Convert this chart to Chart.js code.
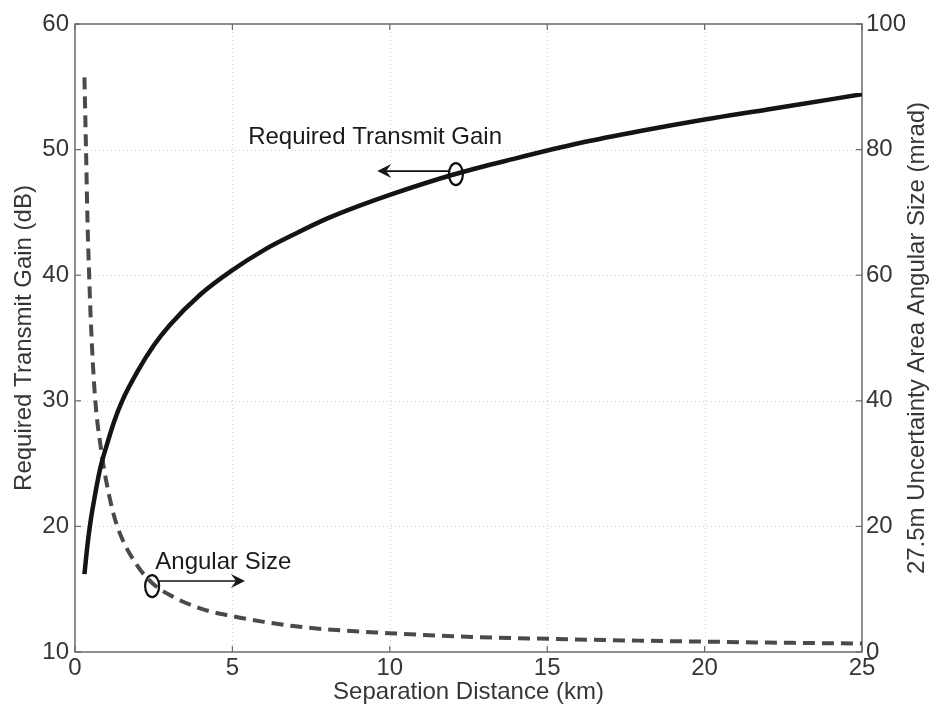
<!DOCTYPE html>
<html lang="en">
<head>
    <meta charset="UTF-8">
    <title>Required transmit gain vs separation distance</title>
    <script src="https://cdn.jsdelivr.net/npm/chart.js"></script>
    <style>
        body { margin: 0; background: #fff; }
        #gainChart { display: block; }
    </style>
</head>
<body>
    <canvas id="gainChart" width="935" height="707"></canvas>

    <script>
        // separation distance (km) and required transmit gain (dB)
        const gainDist = [0.3, 0.4, 0.5, 0.6, 0.8, 1.0, 1.25, 1.5, 2.0, 2.5, 3.0, 4.0, 5.0, 6.0, 7.0, 8.0, 9.0, 10, 12, 14, 16, 18, 20, 22, 24, 25];
        const gainDb = [16.2, 18.6, 20.5, 22.0, 24.6, 26.4, 28.4, 30.0, 32.4, 34.4, 36.0, 38.5, 40.4, 42.0, 43.3, 44.5, 45.5, 46.4, 48.0, 49.3, 50.5, 51.5, 52.4, 53.2, 54.0, 54.4];

        // separation distance (km) and angular size of the 27.5 m uncertainty area (mrad)
        const angleDist = [0.3, 0.35, 0.4, 0.45, 0.5, 0.63, 0.85, 1.0, 1.25, 1.5, 2.0, 2.45, 3.0, 4.0, 5.0, 6.0, 7.0, 8.0, 10, 12, 15, 18, 20, 22, 25];
        const angleMrad = [91.5, 80, 68, 60, 53, 41, 31.5, 27, 21.5, 18, 13.6, 11.0, 9.1, 6.9, 5.7, 4.8, 4.1, 3.6, 3.0, 2.5, 2.1, 1.8, 1.65, 1.5, 1.35];

        const xTicks = [0, 5, 10, 15, 20, 25];
        const gainTicks = [10, 20, 30, 40, 50, 60];
        const angleTicks = [0, 20, 40, 60, 80, 100];

        const FONT = 'Arial, "Liberation Sans", sans-serif';
        const TEXT = '#363636';
        const SIZE = 24;

        function toPoints(xs, ys) {
            return xs.map((x, i) => ({ x: x, y: ys[i] }));
        }

        // box, dotted grid and inward ticks like a MATLAB axes
        const axesFrame = {
            id: 'axesFrame',
            beforeDatasetsDraw(chart) {
                const ctx = chart.ctx;
                const a = chart.chartArea;
                const sx = chart.scales.x, sy = chart.scales.y, sy1 = chart.scales.y1;
                ctx.save();
                ctx.strokeStyle = '#cfcfcf';
                ctx.lineWidth = 1;
                ctx.setLineDash([1, 3]);
                xTicks.slice(1, -1).forEach(v => {
                    const px = Math.round(sx.getPixelForValue(v)) + 0.5;
                    ctx.beginPath(); ctx.moveTo(px, a.top); ctx.lineTo(px, a.bottom); ctx.stroke();
                });
                gainTicks.slice(1, -1).forEach(v => {
                    const py = Math.round(sy.getPixelForValue(v)) + 0.5;
                    ctx.beginPath(); ctx.moveTo(a.left, py); ctx.lineTo(a.right, py); ctx.stroke();
                });
                ctx.setLineDash([]);

                ctx.strokeStyle = '#6a6a6a';
                ctx.lineWidth = 1.5;
                ctx.strokeRect(a.left, a.top, a.right - a.left, a.bottom - a.top);

                const t = 6;
                ctx.lineWidth = 1.2;
                xTicks.forEach(v => {
                    const px = sx.getPixelForValue(v);
                    ctx.beginPath();
                    ctx.moveTo(px, a.bottom); ctx.lineTo(px, a.bottom - t);
                    ctx.moveTo(px, a.top); ctx.lineTo(px, a.top + t);
                    ctx.stroke();
                });
                gainTicks.forEach(v => {
                    const py = sy.getPixelForValue(v);
                    ctx.beginPath(); ctx.moveTo(a.left, py); ctx.lineTo(a.left + t, py); ctx.stroke();
                });
                angleTicks.forEach(v => {
                    const py = sy1.getPixelForValue(v);
                    ctx.beginPath(); ctx.moveTo(a.right, py); ctx.lineTo(a.right - t, py); ctx.stroke();
                });

                // right axis title reads bottom to top
                ctx.fillStyle = TEXT;
                ctx.font = SIZE + 'px ' + FONT;
                ctx.textAlign = 'center';
                ctx.textBaseline = 'middle';
                ctx.translate(917, (a.top + a.bottom) / 2);
                ctx.rotate(-Math.PI / 2);
                ctx.fillText('27.5m Uncertainty Area Angular Size (mrad)', 0, 0);
                ctx.restore();
            },
            afterDatasetsDraw(chart) {
                const ctx = chart.ctx;
                const sx = chart.scales.x, sy = chart.scales.y, sy1 = chart.scales.y1;

                function ellipse(cx, cy) {
                    ctx.save();
                    ctx.lineWidth = 2.2;
                    ctx.beginPath();
                    ctx.ellipse(cx, cy, 7, 11, 0, 0, Math.PI * 2);
                    ctx.stroke();
                    ctx.restore();
                }
                function arrow(x0, y0, x1, y1) {
                    const dir = Math.sign(x1 - x0);
                    ctx.beginPath(); ctx.moveTo(x0, y0); ctx.lineTo(x1 - dir * 4, y1); ctx.stroke();
                    ctx.beginPath();
                    ctx.moveTo(x1, y1);
                    ctx.lineTo(x1 - dir * 14, y1 - 7);
                    ctx.lineTo(x1 - dir * 9, y1);
                    ctx.lineTo(x1 - dir * 14, y1 + 7);
                    ctx.closePath();
                    ctx.fill();
                }

                ctx.save();
                ctx.strokeStyle = '#111';
                ctx.fillStyle = '#1a1a1a';
                ctx.lineWidth = 1.6;
                ctx.font = SIZE + 'px ' + FONT;
                ctx.textAlign = 'left';
                ctx.textBaseline = 'middle';

                // gain curve label, pointing at the left axis
                ctx.fillText('Required Transmit Gain', sx.getPixelForValue(5.5), sy.getPixelForValue(51.0));
                const gx = sx.getPixelForValue(12.1), gy = sy.getPixelForValue(48.05);
                ellipse(gx, gy);
                arrow(gx - 7, gy - 3, sx.getPixelForValue(9.6), gy - 3);

                // angular size curve label, pointing at the right axis
                ctx.fillText('Angular Size', sx.getPixelForValue(2.55), sy1.getPixelForValue(14.3));
                const ax = sx.getPixelForValue(2.45), ay = sy1.getPixelForValue(10.5);
                ellipse(ax, ay);
                arrow(ax + 6, ay - 5, sx.getPixelForValue(5.4), ay - 5);
                ctx.restore();
            }
        };

        new Chart(document.getElementById('gainChart'), {
            type: 'line',
            data: {
                datasets: [{
                    label: 'Required Transmit Gain',
                    data: toPoints(gainDist, gainDb),
                    yAxisID: 'y',
                    borderColor: '#141414',
                    borderWidth: 4.5,
                    pointRadius: 0,
                    cubicInterpolationMode: 'monotone'
                }, {
                    label: 'Angular Size',
                    data: toPoints(angleDist, angleMrad),
                    yAxisID: 'y1',
                    borderColor: '#4a4a4a',
                    borderWidth: 4,
                    borderDash: [12, 7],
                    pointRadius: 0,
                    cubicInterpolationMode: 'monotone'
                }]
            },
            options: {
                responsive: false,
                animation: false,
                layout: { padding: { top: 24 } },
                plugins: {
                    legend: { display: false },
                    tooltip: { enabled: false }
                },
                scales: {
                    x: {
                        type: 'linear',
                        min: 0, max: 25,
                        afterBuildTicks: s => { s.ticks = xTicks.map(v => ({ value: v })); },
                        afterFit: s => { s.height = 55; },
                        grid: { display: false, drawTicks: false },
                        border: { display: false },
                        ticks: { color: TEXT, font: { size: SIZE, family: FONT }, padding: 2, maxRotation: 0 },
                        title: { display: true, text: 'Separation Distance (km)', color: TEXT, font: { size: SIZE, family: FONT }, padding: 0 }
                    },
                    y: {
                        position: 'left',
                        min: 10, max: 60,
                        afterBuildTicks: s => { s.ticks = gainTicks.map(v => ({ value: v })); },
                        afterFit: s => { s.width = 75; },
                        grid: { display: false, drawTicks: false },
                        border: { display: false },
                        ticks: { color: TEXT, font: { size: SIZE, family: FONT }, padding: 6 },
                        title: { display: true, text: 'Required Transmit Gain (dB)', color: TEXT, font: { size: SIZE, family: FONT }, padding: { top: 10, bottom: 0 } }
                    },
                    y1: {
                        position: 'right',
                        min: 0, max: 100,
                        afterBuildTicks: s => { s.ticks = angleTicks.map(v => ({ value: v })); },
                        afterFit: s => { s.width = 73; },
                        grid: { display: false, drawTicks: false },
                        border: { display: false },
                        ticks: { color: TEXT, font: { size: SIZE, family: FONT }, padding: 4 }
                    }
                }
            },
            plugins: [axesFrame]
        });
    </script>
</body>
</html>
